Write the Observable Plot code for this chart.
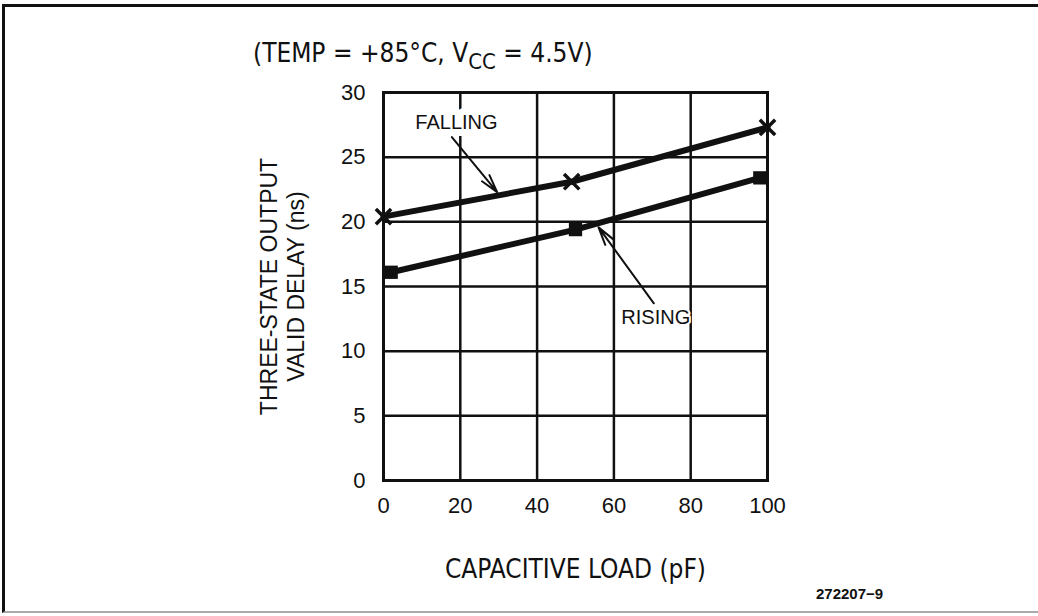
<!DOCTYPE html>
<html><head><meta charset="utf-8">
<script src="https://cdn.jsdelivr.net/npm/d3@7"></script>
<script src="https://cdn.jsdelivr.net/npm/@observablehq/plot@0.6"></script>
<style>
html,body{margin:0;padding:0;background:#fff;}
#wrap{position:relative;width:1038px;height:616px;overflow:hidden;background:#fff;}
#border{position:absolute;left:2px;top:4px;width:1040px;height:604px;border-left:3px solid #111;border-top:3px solid #111;border-bottom:2px solid #aaa;}
#title{position:absolute;left:253px;top:38px;font-family:"Liberation Sans Narrow","Arial Narrow","DejaVu Sans Condensed",sans-serif;font-size:26px;color:#111;white-space:nowrap;}
#title sub{font-size:22px;vertical-align:-7px;line-height:0;}
#chart{position:absolute;left:0;top:0;}
#code{position:absolute;left:816px;top:585px;font-family:"Liberation Sans",Arial,sans-serif;font-weight:bold;font-size:15px;color:#111;}
</style></head>
<body>
<div id="wrap">
  <div id="border"></div>
  <div id="chart"></div>
  <div id="title">(TEMP = +85°C, V<sub>CC</sub> = 4.5V)</div>
  <div id="code">272207−9</div>
</div>
<script>
// ---- data ----
const fallingLoad = [0, 49, 100];
const fallingDelay = [20.4, 23.1, 27.3];
const risingLoad = [2, 50, 98];
const risingDelay = [16.1, 19.4, 23.4];
const xTicks = [0, 20, 40, 60, 80, 100];
const yTicks = [0, 5, 10, 15, 20, 25, 30];
const xLabel = "CAPACITIVE LOAD (pF)";
const yLabel = "THREE-STATE OUTPUT\nVALID DELAY (ns)";
const seriesNames = ["FALLING", "RISING"];
const labelLoad = [19, 70.9];
const labelDelay = [27.7, 12.6];
const arrowFromLoad = [17.8, 70.4];
const arrowFromDelay = [26.55, 13.7];
const arrowToLoad = [29.6, 56.0];
const arrowToDelay = [22.3, 19.57];

const falling = fallingLoad.map((x, i) => ({x, y: fallingDelay[i]}));
const rising = risingLoad.map((x, i) => ({x, y: risingDelay[i]}));
const labels = seriesNames.map((t, i) => ({t, x: labelLoad[i], y: labelDelay[i]}));
const arrows = seriesNames.map((t, i) => ({x1: arrowFromLoad[i], y1: arrowFromDelay[i], x2: arrowToLoad[i], y2: arrowToDelay[i]}));

const ink = "#111";
const sans = '"Liberation Sans", Arial, sans-serif';
const narrow = '"Liberation Sans Narrow","Arial Narrow","DejaVu Sans Condensed",sans-serif';

const chart = Plot.plot({
  width: 1038, height: 616,
  marginLeft: 383, marginRight: 271, marginTop: 92, marginBottom: 136,
  x: {domain: [0, 100]},
  y: {domain: [0, 30]},
  style: {fontFamily: sans, background: "transparent", color: ink},
  marks: [
    Plot.gridX(xTicks, {stroke: ink, strokeOpacity: 1, strokeWidth: 2.5}),
    Plot.gridY(yTicks, {stroke: ink, strokeOpacity: 1, strokeWidth: 2.5}),
    Plot.frame({stroke: ink, strokeWidth: 3}),
    Plot.axisX(xTicks, {tickSize: 0, tickPadding: 17, fontSize: 22, label: null, fill: ink, style: "letter-spacing:1.5px"}),
    Plot.axisY(yTicks, {tickSize: 0, tickPadding: 18, fontSize: 22, label: null, fill: ink}),
    Plot.text([labels[0]], {x: "x", y: "y", text: "t", fontSize: 20, fill: ink, stroke: "white", strokeWidth: 14, paintOrder: "stroke"}),
    Plot.text([labels[1]], {x: "x", y: "y", text: "t", fontSize: 20, fill: ink, stroke: "white", strokeWidth: 4, paintOrder: "stroke"}),
    Plot.line(falling, {x: "x", y: "y", stroke: ink, strokeWidth: 6}),
    Plot.line(rising, {x: "x", y: "y", stroke: ink, strokeWidth: 6}),
    Plot.dot(falling, {x: "x", y: "y", symbol: "times", r: 7, stroke: ink, strokeWidth: 3.5}),
    Plot.dot(rising, {x: "x", y: "y", symbol: "square", r: 7.5, fill: ink}),
    Plot.arrow(arrows, {x1: "x1", y1: "y1", x2: "x2", y2: "y2", stroke: ink, strokeWidth: 2, headLength: 14, headAngle: 30}),
    Plot.text([xLabel], {frameAnchor: "bottom", dy: 97, fontSize: 26, fill: ink, fontFamily: narrow}),
    Plot.text([yLabel], {frameAnchor: "left", textAnchor: "middle", dx: -101.5, rotate: -90, fontSize: 23, lineHeight: 1.17, fill: ink})
  ]
});
document.getElementById("chart").appendChild(chart);
</script>
</body></html>
